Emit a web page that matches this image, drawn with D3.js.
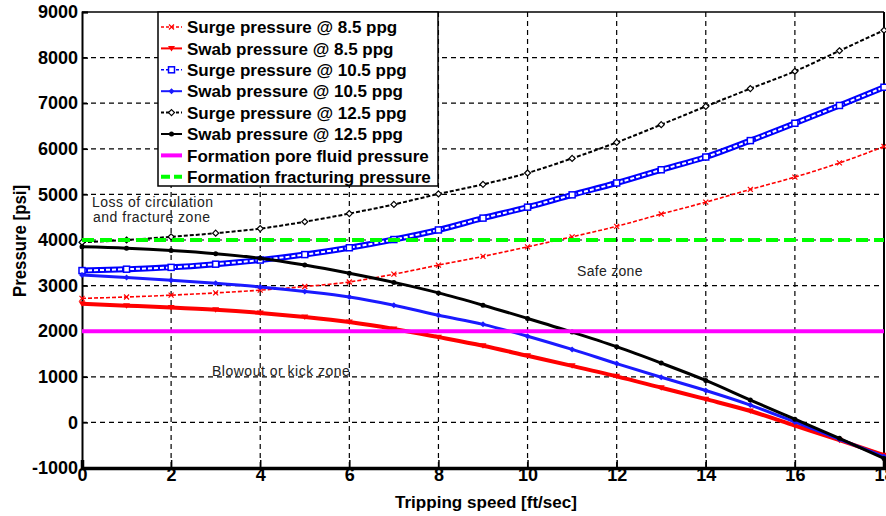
<!DOCTYPE html>
<html>
<head>
<meta charset="utf-8">
<script src="https://cdn.jsdelivr.net/npm/d3@7"></script>
<style>
  body { margin: 0; background: #fff; }
  text { font-family: "Liberation Sans", Arial, sans-serif; }
</style>
</head>
<body>
<div id="chart"></div>
<script>
// tripping speed [ft/sec]
const speed = [0, 1, 2, 3, 4, 5, 6, 7, 8, 9, 10, 11, 12, 13, 14, 15, 16, 17, 18];

// pressures [psi]
const surge85  = [2720, 2750, 2790, 2840, 2900, 2980, 3080, 3250, 3450, 3640, 3850, 4070, 4300, 4570, 4830, 5110, 5380, 5690, 6050];
const swab85   = [2600, 2560, 2520, 2470, 2400, 2310, 2200, 2050, 1870, 1680, 1460, 1240, 1010, 760, 510, 250, -70, -390, -720];
const surge105 = [3330, 3360, 3400, 3470, 3560, 3680, 3830, 4010, 4220, 4480, 4720, 4990, 5250, 5540, 5820, 6180, 6560, 6950, 7350];
const swab105  = [3230, 3180, 3120, 3050, 2970, 2870, 2750, 2570, 2350, 2150, 1890, 1600, 1290, 990, 700, 380, 10, -370, -750];
const surge125 = [3950, 4000, 4070, 4150, 4250, 4400, 4580, 4780, 5010, 5220, 5470, 5790, 6140, 6530, 6930, 7320, 7700, 8150, 8600];
const swab125  = [3850, 3820, 3770, 3700, 3600, 3450, 3270, 3070, 2840, 2570, 2280, 1980, 1660, 1300, 920, 490, 70, -350, -790];

const porePressure = 2000;
const fracPressure = 4000;

const xTicks = [0, 2, 4, 6, 8, 10, 12, 14, 16, 18];
const yTicks = [-1000, 0, 1000, 2000, 3000, 4000, 5000, 6000, 7000, 8000, 9000];

const series = [
  { name: "Surge pressure @ 8.5 ppg",  values: surge85,  color: "#ff0000", width: 1.6, dash: "4,2",  marker: "x" },
  { name: "Swab pressure @ 8.5 ppg",   values: swab85,   color: "#ff0000", width: 4,   dash: null,   marker: "tri" },
  { name: "Surge pressure @ 10.5 ppg", values: surge105, color: "#0000ff", width: 1.6, dash: "4,3",  marker: "square" },
  { name: "Swab pressure @ 10.5 ppg",  values: swab105,  color: "#1a1aff", width: 3,   dash: null,   marker: "diamond" },
  { name: "Surge pressure @ 12.5 ppg", values: surge125, color: "#000000", width: 2,   dash: "4,2",  marker: "odiamond" },
  { name: "Swab pressure @ 12.5 ppg",  values: swab125,  color: "#000000", width: 3,   dash: null,   marker: "dot" }
];

const width = 886;
const height = 516;
const margin = { top: 12, right: 2, bottom: 48, left: 82 };

const svg = d3.select("#chart").append("svg")
    .attr("width", width)
    .attr("height", height);

const x = d3.scaleLinear().domain([0, 18]).range([margin.left, width - margin.right]);
const y = d3.scaleLinear().domain([-1000, 9000]).range([height - margin.bottom, margin.top]);

// grid
svg.append("g").selectAll("line")
    .data(xTicks.slice(1, -1))
    .join("line")
      .attr("x1", d => x(d)).attr("x2", d => x(d))
      .attr("y1", y(9000)).attr("y2", y(-1000))
      .attr("stroke", "#000").attr("stroke-width", 1.2)
      .attr("stroke-dasharray", "5,4");

svg.append("g").selectAll("line")
    .data(yTicks.slice(1, -1))
    .join("line")
      .attr("x1", x(0)).attr("x2", x(18))
      .attr("y1", d => y(d)).attr("y2", d => y(d))
      .attr("stroke", "#000").attr("stroke-width", 1.2)
      .attr("stroke-dasharray", "5,4");

// axes
const xAxis = d3.axisBottom(x).tickValues(xTicks).tickSize(-8).tickFormat(d => String(d));
const gx = svg.append("g").attr("transform", `translate(0,${y(-1000)})`).call(xAxis);
gx.select(".domain").attr("stroke-width", 3.5);
gx.selectAll(".tick line").attr("stroke-width", 1.5);
gx.selectAll(".tick text")
    .attr("dy", "0.55em")
    .style("font-size", "18px").style("font-weight", "bold")
    .style("font-family", "'Liberation Sans', Arial, sans-serif");

const yAxis = d3.axisLeft(y).tickValues(yTicks).tickSize(-6).tickPadding(4).tickFormat(d => String(d));
const gy = svg.append("g").attr("transform", `translate(${x(0)},0)`).call(yAxis);
gy.select(".domain").attr("stroke-width", 2);
gy.selectAll(".tick line").attr("stroke-width", 1.5);
gy.selectAll(".tick text")
    .style("font-size", "18px").style("font-weight", "bold")
    .style("font-family", "'Liberation Sans', Arial, sans-serif");

// top and right frame
svg.append("line")
    .attr("x1", x(0)).attr("x2", x(18))
    .attr("y1", y(9000)).attr("y2", y(9000))
    .attr("stroke", "#000").attr("stroke-width", 1.5);
svg.append("line")
    .attr("x1", x(18)).attr("x2", x(18))
    .attr("y1", y(9000)).attr("y2", y(-1000))
    .attr("stroke", "#000").attr("stroke-width", 2);

// axis titles
svg.append("text")
    .attr("x", 486).attr("y", 508)
    .attr("text-anchor", "middle")
    .attr("textLength", 182).attr("lengthAdjust", "spacingAndGlyphs")
    .style("font-size", "17px").style("font-weight", "bold")
    .text("Tripping speed [ft/sec]");

svg.append("text")
    .attr("transform", "translate(26,241) rotate(-90)")
    .attr("text-anchor", "middle")
    .attr("textLength", 112).attr("lengthAdjust", "spacingAndGlyphs")
    .style("font-size", "18px").style("font-weight", "bold")
    .text("Pressure [psi]");

// markers
function drawMarker(g, type, color, cx, cy) {
  if (type === "x") {
    g.append("path").attr("d", `M${cx - 2.5},${cy - 2.5}L${cx + 2.5},${cy + 2.5}M${cx - 2.5},${cy + 2.5}L${cx + 2.5},${cy - 2.5}`)
        .attr("stroke", color).attr("stroke-width", 1.2);
  } else if (type === "tri") {
    g.append("path").attr("d", `M${cx - 3.5},${cy - 2.5}L${cx + 3.5},${cy - 2.5}L${cx},${cy + 3}Z`).attr("fill", color);
  } else if (type === "square") {
    g.append("rect").attr("x", cx - 3).attr("y", cy - 3).attr("width", 6).attr("height", 6)
        .attr("fill", "#fff").attr("stroke", color).attr("stroke-width", 1.5);
  } else if (type === "diamond") {
    g.append("path").attr("d", `M${cx},${cy - 3}L${cx + 3},${cy}L${cx},${cy + 3}L${cx - 3},${cy}Z`).attr("fill", color);
  } else if (type === "odiamond") {
    g.append("path").attr("d", `M${cx},${cy - 3}L${cx + 3},${cy}L${cx},${cy + 3}L${cx - 3},${cy}Z`)
        .attr("fill", "#fff").attr("stroke", color).attr("stroke-width", 1.2);
  } else if (type === "dot") {
    g.append("circle").attr("cx", cx).attr("cy", cy).attr("r", 2.5).attr("fill", color);
  }
}

const line = d3.line().x(d => x(d[0])).y(d => y(d[1])).curve(d3.curveMonotoneX);

const plot = svg.append("g");
series.forEach(s => {
  const pts = speed.map((t, i) => [t, s.values[i]]);
  const g = plot.append("g");
  if (s.marker === "square") {
    // chain of hollow squares
    g.append("path").attr("d", line(pts)).attr("fill", "none")
        .attr("stroke", s.color).attr("stroke-width", 6);
    g.append("path").attr("d", line(pts)).attr("fill", "none")
        .attr("stroke", "#fff").attr("stroke-width", 2).attr("stroke-dasharray", "4,2");
  } else {
    g.append("path").attr("d", line(pts)).attr("fill", "none")
        .attr("stroke", s.color).attr("stroke-width", s.width)
        .attr("stroke-dasharray", s.dash);
  }
  pts.forEach(p => drawMarker(g, s.marker, s.color, x(p[0]), y(p[1])));
});

// formation pressures
svg.append("line")
    .attr("x1", x(0)).attr("x2", x(18))
    .attr("y1", y(porePressure)).attr("y2", y(porePressure))
    .attr("stroke", "#ff00ff").attr("stroke-width", 4);
svg.append("line")
    .attr("x1", x(0)).attr("x2", x(18))
    .attr("y1", y(fracPressure)).attr("y2", y(fracPressure))
    .attr("stroke", "#00ff00").attr("stroke-width", 4)
    .attr("stroke-dasharray", "12,6");

// zone notes
const notes = svg.append("g").style("font-size", "14px").attr("fill", "#222");
notes.append("text").attr("x", 92).attr("y", 207).style("letter-spacing", "0.5px").text("Loss of circulation");
notes.append("text").attr("x", 93).attr("y", 222).style("letter-spacing", "0.5px").text("and fracture zone");
notes.append("text").attr("x", 577).attr("y", 276).style("letter-spacing", "0.3px").text("Safe zone");
notes.append("text").attr("x", 212).attr("y", 376).style("letter-spacing", "0.5px").text("Blowout or kick zone");

// legend
const legendItems = series.map(s => ({ name: s.name, color: s.color, width: Math.min(s.width, 2), dash: s.dash, marker: s.marker }))
  .concat([
    { name: "Formation pore fluid pressure", color: "#ff00ff", width: 4, dash: null, marker: null },
    { name: "Formation fracturing pressure", color: "#00ff00", width: 4, dash: "9,4", marker: null }
  ]);

const legend = svg.append("g");
legend.append("rect")
    .attr("x", 158).attr("y", 12).attr("width", 280).attr("height", 174)
    .attr("fill", "#fff").attr("stroke", "#000").attr("stroke-width", 1.5);

legendItems.forEach((d, i) => {
  const cy = 27 + i * 21.4;
  const g = legend.append("g");
  g.append("line")
      .attr("x1", 161).attr("x2", 182).attr("y1", cy).attr("y2", cy)
      .attr("stroke", d.color).attr("stroke-width", d.width)
      .attr("stroke-dasharray", d.dash ? (d.marker ? "3,2" : d.dash) : null);
  if (d.marker) drawMarker(g, d.marker, d.color, 171.5, cy);
  g.append("text")
      .attr("x", 187).attr("y", cy).attr("dy", "0.36em")
      .style("font-size", "17px").style("font-weight", "bold")
      .text(d.name);
});
</script>
</body>
</html>
